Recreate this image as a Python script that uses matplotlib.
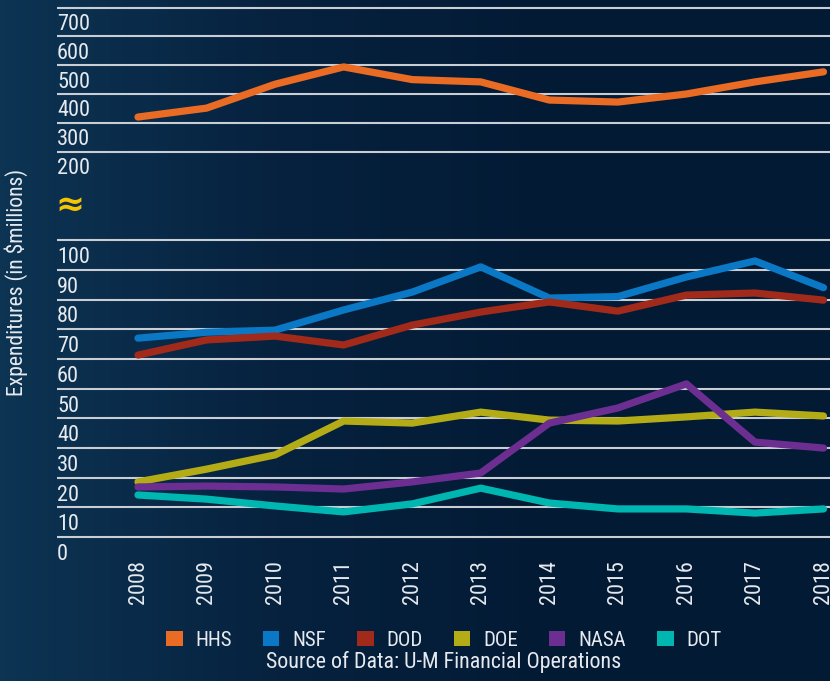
import numpy as np
import matplotlib
matplotlib.use("Agg")
import matplotlib.pyplot as plt
from matplotlib.patches import Patch
from matplotlib.colors import LinearSegmentedColormap
from matplotlib import font_manager

# ---------------- data ----------------
years = list(range(2008, 2019))
agencies = ["HHS", "NSF", "DOD", "DOE", "NASA", "DOT"]
hhs = [370, 401, 484, 544, 500, 492, 429, 422, 450, 492, 527]
nsf = [72, 74, 74.7, 81.5, 87.5, 96, 85.5, 86, 92.6, 98, 89]
dod = [66.3, 71.4, 72.7, 69.7, 76.4, 80.8, 84.2, 81.1, 86.5, 87.2, 84.8]
doe = [23.6, 27.9, 32.7, 44.1, 43.4, 47.1, 44.4, 44.1, 45.5, 47.1, 45.8]
nasa = [21.9, 22.2, 21.9, 21.2, 23.6, 26.6, 43.4, 48.5, 56.6, 37, 35]
dot = [19.2, 17.8, 15.5, 13.5, 16.2, 21.5, 16.5, 14.5, 14.5, 13.1, 14.5]
top_ticks = [200, 300, 400, 500, 600, 700]
bottom_ticks = [0, 10, 20, 30, 40, 50, 60, 70, 80, 90, 100]

colors = {"HHS": "#e96b24", "NSF": "#0a78c4", "DOD": "#a12a1b",
          "DOE": "#b4ac17", "NASA": "#6c2f91", "DOT": "#00b6b1"}

# ---------------- fonts ----------------
flist = font_manager.fontManager.ttflist
names = {f.name for f in flist}
stretch = "normal"
if "Roboto Condensed" in names:
    FONT = "Roboto Condensed"
    SZ = dict(tick=16, year=16, leg=15, src=15.8, ylab=15.6, colsp=1.5)
elif "Liberation Sans Narrow" in names:
    FONT = "Liberation Sans Narrow"
    SZ = dict(tick=16.5, year=16.5, leg=15, src=15, ylab=14.5, colsp=1.35)
else:
    FONT = "Liberation Sans"
    SZ = dict(tick=14.3, year=15, leg=13.9, src=13.9, ylab=14, colsp=1.45)
plt.rcParams["font.family"] = [FONT, "DejaVu Sans"]

TXT = "#e6eaee"
GRID = "#c9ced4"
BG = "#041b36"

W, H = 830, 681
fig = plt.figure(figsize=(W / 100, H / 100), dpi=100)
fig.patch.set_facecolor(BG)


def box(x0, y0, x1, y1):
    return [x0 / W, 1 - y1 / H, (x1 - x0) / W, (y1 - y0) / H]


# background gradient (lighter on the left)
bgax = fig.add_axes([0, 0, 1, 1], zorder=-10)
cmap = LinearSegmentedColormap.from_list("bg", ["#0d3453", "#06223f", "#031a34", "#031a34"])
grad = np.linspace(0, 1, 256)[None, :]
bgax.imshow(grad, aspect="auto", cmap=cmap, extent=[0, 1, 0, 1])
bgax.axis("off")

# x mapping: 2008 -> 138 px, step 68.55 px per year
x_left = 2008 - (138 - 57) / 68.55
x_right = 2008 + (830 - 138) / 68.55


def vtop(y):
    return 200 + (166 - y) / 0.288


def vbot(y):
    return (552 - y) / 2.97


ax_top = fig.add_axes(box(57, 2, 830, 175))
ax_bot = fig.add_axes(box(57, 232, 830, 555))
ax_top.set_ylim(vtop(175), vtop(2))
ax_bot.set_ylim(vbot(555), vbot(232))

for ax in (ax_top, ax_bot):
    ax.set_facecolor("none")
    ax.set_xlim(x_left, x_right)
    for s in ax.spines.values():
        s.set_visible(False)
    ax.tick_params(axis="both", which="both", length=0)
    ax.set_axisbelow(True)

# top panel
ax_top.set_yticks(top_ticks)
ax_top.set_yticklabels([str(t) for t in top_ticks])
ax_top.set_yticks([t + 50 for t in top_ticks], minor=True)
ax_top.grid(which="minor", axis="y", color=GRID, lw=1.5)
ax_top.set_xticks([])
ax_top.plot(years, hhs, color=colors["HHS"], lw=5.2, solid_capstyle="round",
            solid_joinstyle="round")

# bottom panel
ax_bot.set_yticks(bottom_ticks)
ax_bot.set_yticklabels([str(t) for t in bottom_ticks])
ax_bot.set_yticks([t + 5 for t in bottom_ticks], minor=True)
ax_bot.grid(which="minor", axis="y", color=GRID, lw=1.5)
ax_bot.set_xticks(years)
ax_bot.set_xticklabels([str(y) for y in years], rotation=90)
for name, vals in [("NSF", nsf), ("DOD", dod), ("DOE", doe), ("NASA", nasa), ("DOT", dot)]:
    ax_bot.plot(years, vals, color=colors[name], lw=5.2, solid_capstyle="round",
                solid_joinstyle="round")

for ax in (ax_top, ax_bot):
    ax.tick_params(axis="y", pad=0, labelsize=SZ["tick"], labelcolor=TXT)
    for lbl in ax.get_yticklabels():
        lbl.set_horizontalalignment("left")
ax_bot.tick_params(axis="x", pad=3.6, labelsize=SZ["year"], labelcolor=TXT)

# axis break symbol
fig.text(70 / W, 1 - 206 / H, "\u2248", ha="center", va="center", fontsize=25,
         fontweight="bold", color="#f6c400", family="DejaVu Sans")

# y label
fig.text(16 / W, 1 - 282 / H, "Expenditures (in $millions)", rotation=90,
         ha="center", va="center", fontsize=SZ["ylab"], color=TXT)

# legend
handles = [Patch(facecolor=colors[a], edgecolor="none", label=a) for a in agencies]
fig.legend(handles=handles, loc="center", bbox_to_anchor=(444 / W, 1 - 640.5 / H),
           ncol=6, frameon=False, fontsize=SZ["leg"], labelcolor=TXT,
           handlelength=0.78, handleheight=0.73, handletextpad=0.62,
           columnspacing=SZ["colsp"], borderaxespad=0, borderpad=0)

fig.text(444 / W, 1 - 668 / H, "Source of Data: U-M Financial Operations",
         ha="center", va="baseline", fontsize=SZ["src"], color=TXT)

fig.savefig("out.png", dpi=100, facecolor=fig.get_facecolor())
